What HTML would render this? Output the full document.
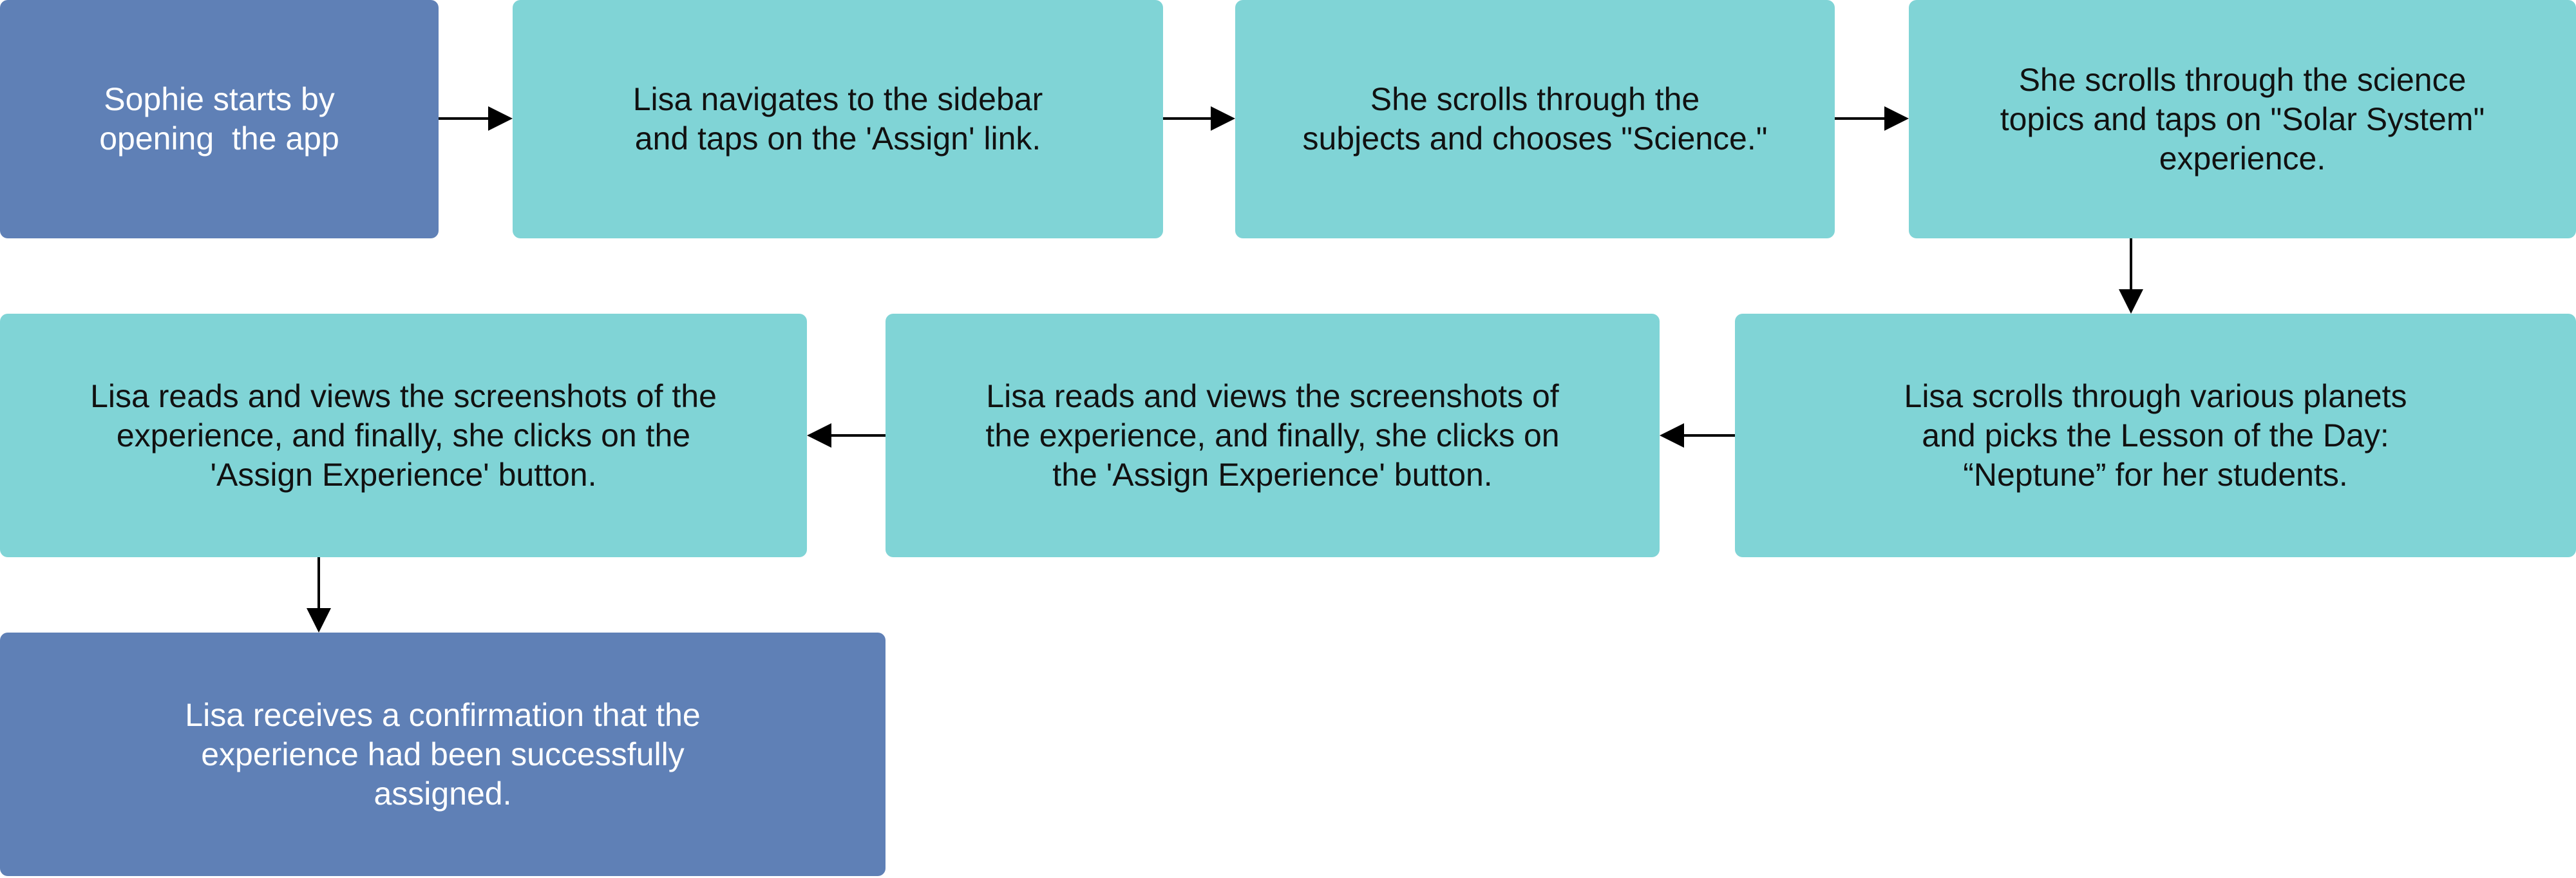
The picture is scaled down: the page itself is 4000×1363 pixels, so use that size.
<!DOCTYPE html>
<html><head><meta charset="utf-8"><style>
html,body{margin:0;padding:0;background:#fff;width:4000px;height:1363px;overflow:hidden;position:relative;font-family:"Liberation Sans",sans-serif;}
.b{position:absolute;border-radius:12px;display:flex;align-items:center;justify-content:center;text-align:center;font-size:50px;line-height:61px;box-sizing:border-box;}
.t{background:#80D4D6;color:#111;}
.d{background:#5F80B6;color:#fff;}
svg{position:absolute;left:0;top:0;}
</style></head><body>
<div class="b d" style="left:0;top:0;width:681px;height:370px;">Sophie starts by<br>opening&nbsp; the app</div>
<div class="b t" style="left:796px;top:0;width:1010px;height:370px;">Lisa navigates to the sidebar<br>and taps on the 'Assign' link.</div>
<div class="b t" style="left:1918px;top:0;width:931px;height:370px;">She scrolls through the<br>subjects and chooses "Science."</div>
<div class="b t" style="left:2964px;top:0;width:1036px;height:370px;">She scrolls through the science<br>topics and taps on "Solar System"<br>experience.</div>
<div class="b t" style="left:0;top:487px;width:1253px;height:378px;">Lisa reads and views the screenshots of the<br>experience, and finally, she clicks on the<br>'Assign Experience' button.</div>
<div class="b t" style="left:1375px;top:487px;width:1202px;height:378px;">Lisa reads and views the screenshots of<br>the experience, and finally, she clicks on<br>the 'Assign Experience' button.</div>
<div class="b t" style="left:2694px;top:487px;width:1306px;height:378px;">Lisa scrolls through various planets<br>and picks the Lesson of the Day:<br>“Neptune” for her students.</div>
<div class="b d" style="left:0;top:982px;width:1375px;height:378px;">Lisa receives a confirmation that the<br>experience had been successfully<br>assigned.</div>
<svg width="4000" height="1363" viewBox="0 0 4000 1363">
<g stroke="#000" stroke-width="4" fill="none">
<line x1="681" y1="184" x2="760" y2="184"/>
<line x1="1806" y1="184" x2="1882" y2="184"/>
<line x1="2849" y1="184" x2="2928" y2="184"/>
<line x1="3309" y1="370" x2="3309" y2="451"/>
<line x1="2694" y1="676" x2="2613" y2="676"/>
<line x1="1375" y1="676" x2="1289" y2="676"/>
<line x1="495" y1="865" x2="495" y2="946"/>
</g>
<g fill="#000">
<polygon points="796,184 758,165 758,203"/>
<polygon points="1918,184 1880,165 1880,203"/>
<polygon points="2964,184 2926,165 2926,203"/>
<polygon points="3309,487 3290,449 3328,449"/>
<polygon points="2577,676 2615,657 2615,695"/>
<polygon points="1253,676 1291,657 1291,695"/>
<polygon points="495,982 476,944 514,944"/>
</g>
</svg>
</body></html>
